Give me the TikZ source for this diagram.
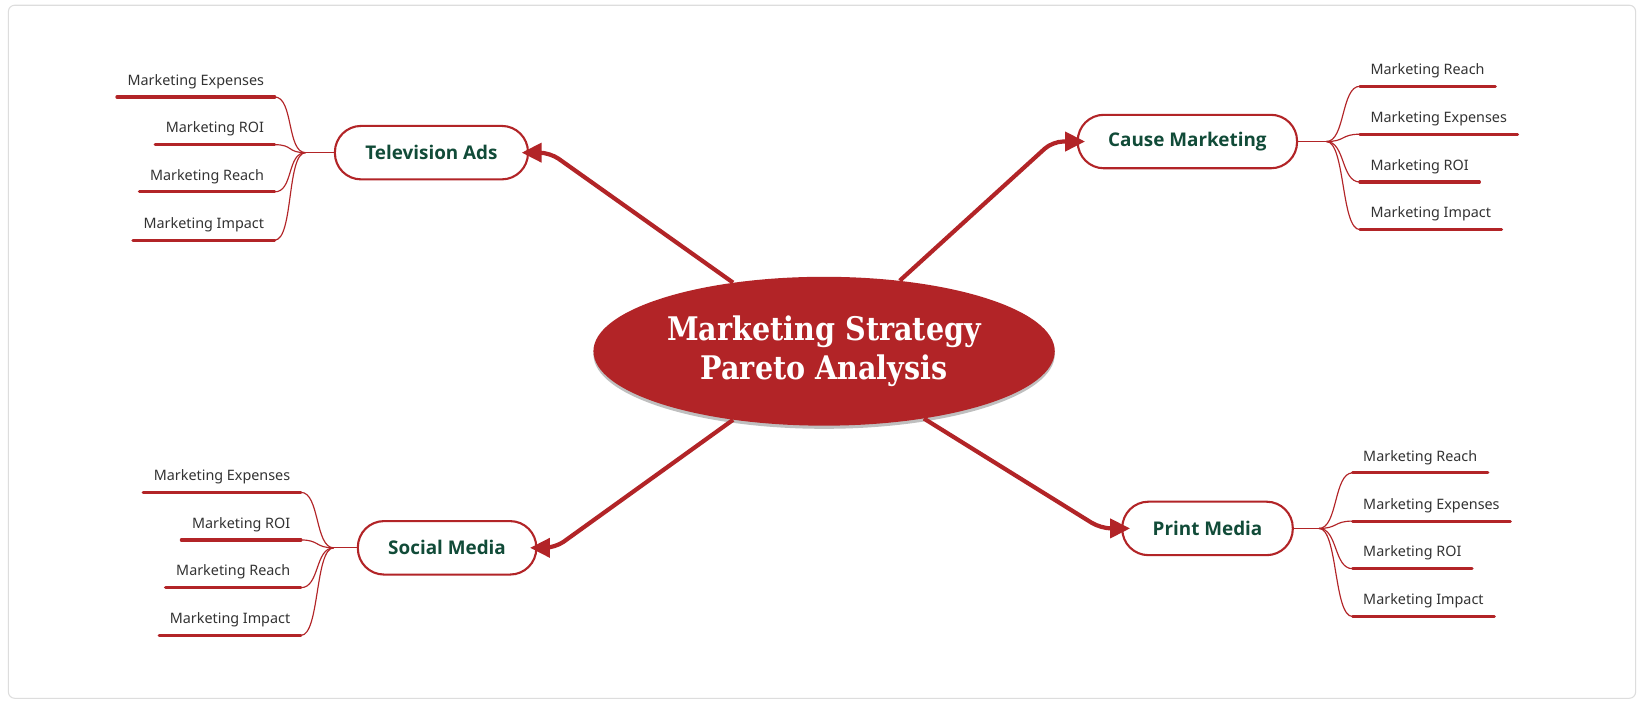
\documentclass[tikz,border=0pt]{standalone}
\usepackage{fontspec}
\setmainfont{Noto Sans}
\newfontfamily\topicfont{Open Sans}
\newfontfamily\titlefont[FakeStretch=0.88]{DejaVu Serif}
\usetikzlibrary{shadows, arrows.meta, shapes.geometric, calc}
\definecolor{mred}{HTML}{B22427}
\definecolor{mgreen}{HTML}{114B38}
\definecolor{mtext}{HTML}{333333}
\definecolor{mframe}{HTML}{DDDDDD}
\begin{document}
\begin{tikzpicture}[x=1pt,y=1pt,
  topic/.style={draw=mred, line width=2pt, fill=white, rounded corners=25pt, minimum height=51pt, inner xsep=29pt, font=\topicfont\bfseries\fontsize{18}{21}\selectfont, text=mgreen},
  leaf/.style={inner xsep=10pt, inner ysep=0pt, text height=10pt, text depth=11pt, font=\fontsize{13.7}{16}\selectfont, text=mtext},
  leafl/.style={leaf, anchor=south east},
  leafr/.style={leaf, anchor=south west},
  uline/.style={draw=mred, line width=3pt, line cap=round},
  branch/.style={draw=mred, line width=1.1pt},
  mainline/.style={draw=mred, line width=4pt, rounded corners=10pt, -{Triangle[length=19pt,width=18pt]}},
]
\useasboundingbox (0,0) rectangle (1568,672);
\fill[white] (0,0) rectangle (1568,672);
\draw[mframe, line width=1pt, rounded corners=6pt, fill=white] (8,6) rectangle (1560,667);

% central node
\node[ellipse, fill=mred, minimum width=440pt, minimum height=142pt, inner sep=0pt,
  drop shadow={shadow xshift=0pt, shadow yshift=-3pt, fill=black, opacity=0.25},
  text=white, align=center, font=\titlefont\bfseries\fontsize{31}{38}\selectfont] (c) at (786,337) {Marketing Strategy\\Pareto Analysis};

% topics
\node[topic] (tv) at (411.5,526.4) {Television Ads};
\node[topic] (cm) at (1132.5,537) {Cause Marketing};
\node[topic] (sm) at (426.4,149.5) {Social Media};
\node[topic] (pm) at (1151.7,168) {Print Media};

% leaves
\node[leafl] (tv1) at (262,579.5) {Marketing Expenses};
\node[leafl] (tv2) at (262,534) {Marketing ROI};
\node[leafl] (tv3) at (262,489) {Marketing Reach};
\node[leafl] (tv4) at (262,443) {Marketing Impact};

\node[leafr] (cm1) at (1297,589.7) {Marketing Reach};
\node[leafr] (cm2) at (1297,544) {Marketing Expenses};
\node[leafr] (cm3) at (1297,498.4) {Marketing ROI};
\node[leafr] (cm4) at (1297,453) {Marketing Impact};

\node[leafl] (sm1) at (287,202.4) {Marketing Expenses};
\node[leafl] (sm2) at (287,157) {Marketing ROI};
\node[leafl] (sm3) at (287,111.5) {Marketing Reach};
\node[leafl] (sm4) at (287,66) {Marketing Impact};

\node[leafr] (pm1) at (1290,221) {Marketing Reach};
\node[leafr] (pm2) at (1290,175) {Marketing Expenses};
\node[leafr] (pm3) at (1290,129.6) {Marketing ROI};
\node[leafr] (pm4) at (1290,84) {Marketing Impact};

% underlines
\foreach \n in {tv1,tv2,tv3,tv4,cm1,cm2,cm3,cm4,sm1,sm2,sm3,sm4,pm1,pm2,pm3,pm4}
  \draw[uline] (\n.south west) -- (\n.south east);

% fan points
\coordinate (tvf) at ([xshift=-27pt]tv.west);
\coordinate (cmf) at ([xshift=27pt]cm.east);
\coordinate (smf) at ([xshift=-22pt]sm.west);
\coordinate (pmf) at ([xshift=24pt]pm.east);

\draw[branch] (tv.west) -- (tvf);
\draw[branch] (cm.east) -- (cmf);
\draw[branch] (sm.west) -- (smf);
\draw[branch] (pm.east) -- (pmf);

\foreach \n in {tv1,tv2,tv3,tv4}
  \draw[branch] (tvf) .. controls +(-18,0) and +(18,0) .. (\n.south east);
\foreach \n in {sm1,sm2,sm3,sm4}
  \draw[branch] (smf) .. controls +(-18,0) and +(18,0) .. (\n.south east);
\foreach \n in {cm1,cm2,cm3,cm4}
  \draw[branch] (cmf) .. controls +(18,0) and +(-18,0) .. (\n.south west);
\foreach \n in {pm1,pm2,pm3,pm4}
  \draw[branch] (pmf) .. controls +(18,0) and +(-18,0) .. (\n.south west);

% main connectors
\coordinate (tvt) at ([xshift=-7pt]tv.east);
\coordinate (cmt) at ([xshift=8pt]cm.west);
\coordinate (smt) at ([xshift=-7pt]sm.east);
\coordinate (pmt) at ([xshift=8.5pt]pm.west);
\draw[mainline] (c.143) -- ([xshift=27pt]tvt) -- (tvt);
\draw[mainline] (c.43) -- ([xshift=-31pt]cmt) -- (cmt);
\draw[mainline] (c.217) -- ([xshift=24pt]smt) -- (smt);
\draw[mainline] (c.326) -- ([xshift=-28pt]pmt) -- (pmt);
\end{tikzpicture}
\end{document}
